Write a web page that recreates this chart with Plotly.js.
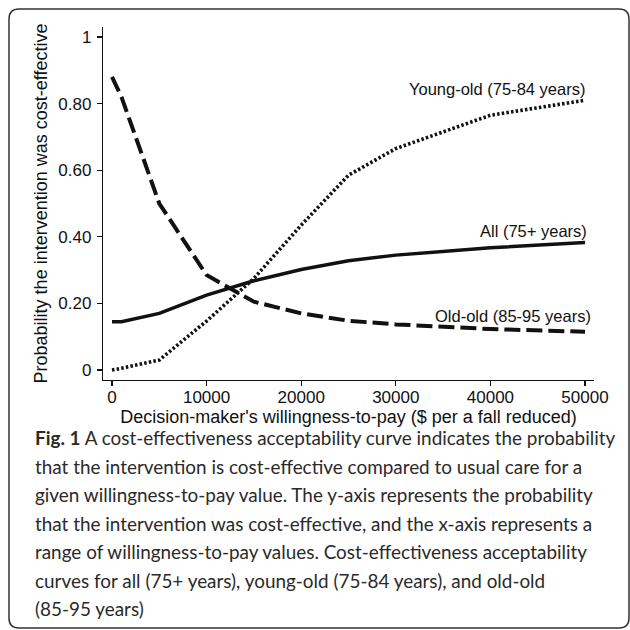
<!DOCTYPE html>
<html>
<head>
<meta charset="utf-8">
<script src="https://cdn.plot.ly/plotly-3.0.1.min.js"></script>
<style>
html,body{margin:0;padding:0;background:#fff;}
#chart{width:630px;height:630px;}
</style>
</head>
<body>
<div id="chart"></div>
<script>
// ---- data ----
var wtpAll = [0, 1000, 5000, 10000, 15000, 20000, 25000, 30000, 40000, 50000];
var probAll = [0.145, 0.145, 0.17, 0.225, 0.268, 0.302, 0.328, 0.345, 0.367, 0.383];

var wtpYoung = [0, 1000, 5000, 10000, 15000, 20000, 25000, 30000, 40000, 50000];
var probYoung = [0.0, 0.005, 0.03, 0.147, 0.275, 0.435, 0.585, 0.665, 0.765, 0.81];

var wtpOld = [0, 1000, 5000, 10000, 15000, 20000, 25000, 30000, 40000, 50000];
var probOld = [0.88, 0.82, 0.50, 0.285, 0.205, 0.17, 0.148, 0.137, 0.123, 0.115];

var seriesLabels = ["All (75+ years)", "Young-old (75-84 years)", "Old-old (85-95 years)"];
var labelX = [50400, 50200, 50800];
var labelY = [0.417, 0.843, 0.162];

var xTickVals = [0, 10000, 20000, 30000, 40000, 50000];
var xTickText = ["0", "10000", "20000", "30000", "40000", "50000"];
var yTickVals = [0, 0.2, 0.4, 0.6, 0.8, 1];
var yTickText = ["0", "0.20", "0.40", "0.60", "0.80", "1"];

var xTitle = "Decision-maker's willingness-to-pay ($ per a fall reduced)";
var yTitle = "Probability the intervention was cost-effective";

var captionLines = [
  "<b>Fig. 1</b> A cost-effectiveness acceptability curve indicates the probability",
  "that the intervention is cost-effective compared to usual care for a",
  "given willingness-to-pay value. The y-axis represents the probability",
  "that the intervention was cost-effective, and the x-axis represents a",
  "range of willingness-to-pay values. Cost-effectiveness acceptability",
  "curves for all (75+ years), young-old (75-84 years), and old-old",
  "(85-95 years)"
];

// ---- layout geometry ----
var W = 630, H = 630;
var M = {l: 103, r: 36, t: 27, b: 250};
var pw = W - M.l - M.r, ph = H - M.t - M.b;
function px2x(px) { return (px - M.l) / pw; }
function py2y(py) { return (H - M.b - py) / ph; }

var traces = [
  {x: wtpAll, y: probAll, name: seriesLabels[0], mode: "lines",
   line: {color: "#111", width: 3.5}},
  {x: wtpYoung, y: probYoung, name: seriesLabels[1], mode: "lines",
   line: {color: "#111", width: 3.6, dash: "2.5px,2.2px"}},
  {x: wtpOld, y: probOld, name: seriesLabels[2], mode: "lines",
   line: {color: "#111", width: 4, dash: "16px,6px"}}
];

var annotations = [];
for (var i = 0; i < seriesLabels.length; i++) {
  annotations.push({x: labelX[i], y: labelY[i], xref: "x", yref: "y",
    text: seriesLabels[i], showarrow: false, xanchor: "right", yanchor: "middle",
    font: {family: "Liberation Sans, Arial, sans-serif", size: 16.5, color: "#111"}});
}
var capY = [437, 466, 494, 523, 551, 580, 608];
for (var j = 0; j < captionLines.length; j++) {
  annotations.push({x: px2x(33), y: py2y(capY[j]), xref: "paper", yref: "paper",
    text: captionLines[j], showarrow: false, xanchor: "left", yanchor: "middle",
    font: {family: "Lato, 'Noto Sans', sans-serif", size: 18.9, color: "#2a2a2a"}});
}

// rounded frame
var fx0 = px2x(9), fx1 = px2x(629), fy0 = py2y(9), fy1 = py2y(628);
var rx = 10 / pw, ry = 10 / ph;
var framePath = "M " + (fx0 + rx) + "," + fy0 +
  " L " + (fx1 - rx) + "," + fy0 +
  " Q " + fx1 + "," + fy0 + " " + fx1 + "," + (fy0 - ry) +
  " L " + fx1 + "," + (fy1 + ry) +
  " Q " + fx1 + "," + fy1 + " " + (fx1 - rx) + "," + fy1 +
  " L " + (fx0 + rx) + "," + fy1 +
  " Q " + fx0 + "," + fy1 + " " + fx0 + "," + (fy1 + ry) +
  " L " + fx0 + "," + (fy0 - ry) +
  " Q " + fx0 + "," + fy0 + " " + (fx0 + rx) + "," + fy0 + " Z";

var layout = {
  width: W, height: H,
  margin: M,
  paper_bgcolor: "#fff", plot_bgcolor: "#fff",
  showlegend: false,
  font: {family: "Liberation Sans, Arial, sans-serif", size: 17, color: "#111"},
  xaxis: {
    range: [-950, 50950], showgrid: false, zeroline: false,
    showline: true, linecolor: "#111", linewidth: 1.2,
    ticks: "outside", ticklen: 5, tickwidth: 1.2, tickcolor: "#111",
    tickvals: xTickVals, ticktext: xTickText,
    tickfont: {size: 17}, ticklabelstandoff: -4,
    title: {text: xTitle, font: {size: 18}, standoff: 0}
  },
  yaxis: {
    range: [-0.03, 1.03], showgrid: false, zeroline: false,
    showline: true, linecolor: "#111", linewidth: 1.2,
    ticks: "outside", ticklen: 5, tickwidth: 1.2, tickcolor: "#111",
    tickvals: yTickVals, ticktext: yTickText,
    tickfont: {size: 17}, ticklabelstandoff: 2,
    title: {text: yTitle, font: {size: 18}, standoff: 6}
  },
  annotations: annotations,
  shapes: [{type: "path", xref: "paper", yref: "paper", path: framePath,
    line: {color: "#333", width: 1.5}, fillcolor: "rgba(0,0,0,0)", layer: "below"}]
};

Plotly.newPlot("chart", traces, layout, {displayModeBar: false, staticPlot: true});
</script>
</body>
</html>
